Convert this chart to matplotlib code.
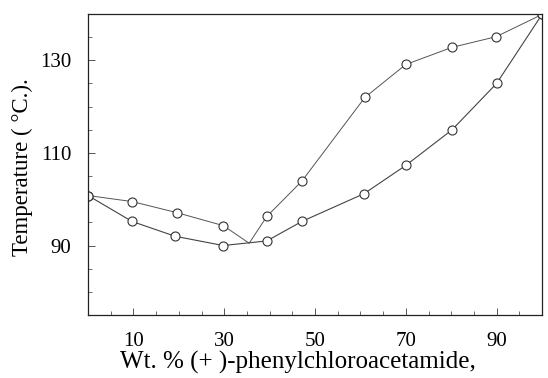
import matplotlib
matplotlib.use('Agg')
import matplotlib.pyplot as plt
from matplotlib.ticker import MultipleLocator, FixedLocator

# ---- data ----
# upper branch (with the eutectic vertex, no marker there)
upper_x = [0, 9.7, 19.6, 29.8, 35.5, 39.4, 47.1, 61.0, 70.0, 80.2, 89.9, 100]
upper_y = [100.8, 99.5, 97.1, 94.3, 90.5, 96.3, 103.9, 122.0, 129.1, 132.8, 135.1, 139.9]
upper_marked = [0, 1, 2, 3, 5, 6, 7, 8, 9, 10, 11]

# lower branch
lower_x = [0, 9.7, 19.2, 29.8, 39.4, 47.1, 60.8, 70.0, 80.2, 90.0, 100]
lower_y = [100.8, 95.2, 92.0, 90.0, 91.0, 95.2, 101.2, 107.3, 115.0, 125.0, 139.9]

xticks = [10, 30, 50, 70, 90]
yticks = [90, 110, 130]

plt.rcParams['font.family'] = ['Liberation Serif', 'DejaVu Serif']

fig = plt.figure(figsize=(5.48, 3.78), dpi=100)
ax = fig.add_axes([88/548, 63/378, 454/548, 301/378])

ax.plot(upper_x, upper_y, color='#555555', linewidth=0.7, marker='o',
        markevery=upper_marked, markersize=6.5, markerfacecolor='white',
        markeredgecolor='#333333', markeredgewidth=0.8)
ax.plot(lower_x, lower_y, color='#444444', linewidth=0.8, marker='o',
        markersize=6.5, markerfacecolor='white',
        markeredgecolor='#333333', markeredgewidth=0.8)

ax.set_xlim(0, 100)
ax.set_ylim(75, 140)
ax.xaxis.set_major_locator(FixedLocator(xticks))
ax.yaxis.set_major_locator(FixedLocator(yticks))
ax.xaxis.set_minor_locator(MultipleLocator(5))
ax.yaxis.set_minor_locator(MultipleLocator(5))
ax.tick_params(which='both', direction='in', top=False, right=False,
               labelsize=15, pad=12, color='#555555')
ax.tick_params(which='major', length=5, width=0.7)
ax.tick_params(which='minor', length=3, width=0.6)

for s in ax.spines.values():
    s.set_linewidth(0.9)
    s.set_color('#222222')

ax.set_xlabel('Wt. % (+ )-phenylchloroacetamide,', fontsize=18)
ax.xaxis.set_label_coords(0.463, -0.118)
ax.set_ylabel('Temperature ( °C.).', fontsize=16.5)
ax.yaxis.set_label_coords(-0.121, 0.49)

fig.savefig('out.png', dpi=100)
